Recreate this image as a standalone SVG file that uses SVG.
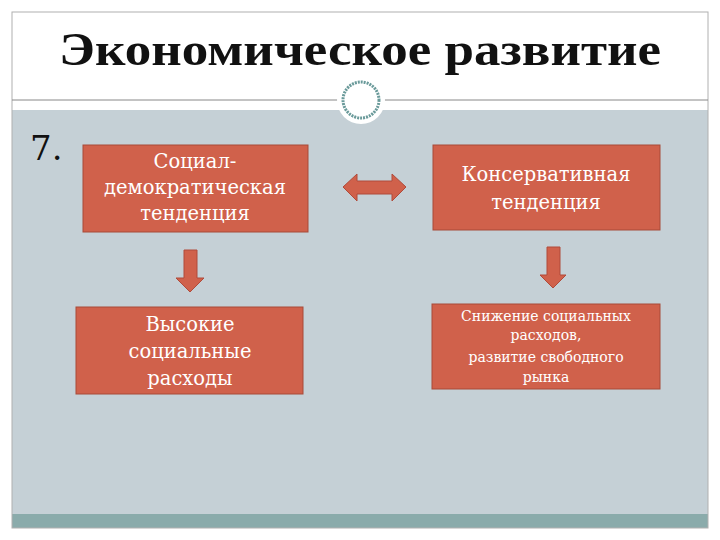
<svg xmlns="http://www.w3.org/2000/svg" width="720" height="540" viewBox="0 0 720 540">
<style>
.box{fill:#d0614b;stroke:#a84a38;stroke-width:1}
.t{font-family:"DejaVu Serif",serif;fill:#fff;text-anchor:middle}
.arr{fill:#d0614b;stroke:#b04a3a;stroke-width:1}
</style>
<rect width="720" height="540" fill="#fff"/>
<rect x="12" y="110" width="696" height="418" fill="#c5d0d6"/>
<rect x="12" y="514" width="696" height="14" fill="#8aabab"/>
<rect x="12" y="12" width="696" height="516" fill="none" stroke="#b0b0b0" stroke-width="1"/>
<line x1="12" y1="100" x2="708" y2="100" stroke="#888" stroke-width="1"/>
<circle cx="361" cy="100" r="24" fill="#fff"/>
<circle cx="361" cy="100" r="18" fill="#fff" stroke="#6a9a9a" stroke-width="3" stroke-dasharray="2 1"/>
<text x="360" y="65" font-family="Liberation Serif,serif" font-weight="bold" font-size="46" text-anchor="middle" fill="#111" textLength="602" lengthAdjust="spacingAndGlyphs">Экономическое развитие</text>
<text x="30" y="160" font-family="DejaVu Serif,serif" font-size="34" fill="#111">7.</text>
<g id="n1"><rect class="box" x="83" y="145" width="225" height="87"/>
<text class="t" font-size="19.5"><tspan x="195" y="168">Социал-</tspan><tspan x="195" y="194">демократическая</tspan><tspan x="195" y="220">тенденция</tspan></text></g>
<g id="n2"><rect class="box" x="433" y="145" width="227" height="85"/>
<text class="t" font-size="19.5"><tspan x="546" y="181">Консервативная</tspan><tspan x="546" y="209">тенденция</tspan></text></g>
<g id="n3"><rect class="box" x="76" y="307" width="227" height="87"/>
<text class="t" font-size="19.5"><tspan x="190" y="331">Высокие</tspan><tspan x="190" y="358">социальные</tspan><tspan x="190" y="385">расходы</tspan></text></g>
<g id="n4"><rect class="box" x="432" y="304" width="228" height="85"/>
<text class="t" font-size="14"><tspan x="546" y="321">Снижение социальных</tspan><tspan x="546" y="340">расходов,</tspan><tspan x="546" y="362">развитие свободного</tspan><tspan x="546" y="382">рынка</tspan></text></g>
<g id="connectors">
<path class="arr" d="M343,187 L357,174 L357,181 L392,181 L392,174 L406,187 L392,201 L392,194 L357,194 L357,201 Z"/>
<path class="arr" d="M184,250 L197,250 L197,278 L204,278 L190,292 L176,278 L184,278 Z"/>
<path class="arr" d="M547,247 L560,247 L560,275 L566,275 L553,288 L540,275 L547,275 Z"/>
</g>
</svg>
